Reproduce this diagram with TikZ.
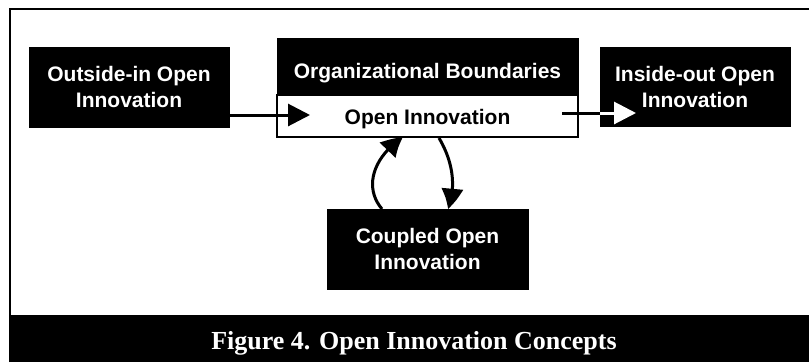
\documentclass[tikz,border=0pt]{standalone}
\usepackage{fontspec}
\setmainfont{Liberation Serif}
\newfontfamily\hv{Liberation Sans}
\usetikzlibrary{arrows.meta,bending}
\tikzset{
  blackbox/.style={draw=black, fill=black, text=white, align=center, inner sep=0pt,
    font=\hv\bfseries\fontsize{21}{26}\selectfont},
  whitebox/.style={draw=black, line width=1.5pt, fill=white, text=black, inner sep=0pt,
    font=\hv\bfseries\fontsize{21}{26}\selectfont},
  arr/.style={line width=3pt, -{Triangle[length=22pt,width=22pt]}},
  curvearr/.style={line width=3pt, -{Triangle[length=21pt,width=21pt,bend]}},
}
\begin{document}
\begin{tikzpicture}[x=1pt,y=-1pt]
\useasboundingbox (0,0) rectangle (809,362);
% frame
\draw[line width=2pt] (10,362) -- (10,9) -- (809,9);
\fill[black] (9,315) rectangle (809,362);
\node[anchor=base, text=white, font=\bfseries\fontsize{26}{30}\selectfont] (cap) at (414,349) {Figure 4. Open Innovation Concepts};
% boxes
\node[blackbox, minimum width=200pt, minimum height=80pt] (outin) at (129,87) {Outside-in Open\\Innovation};
\node[blackbox, minimum width=190pt, minimum height=79pt] (inout) at (695,86.5) {Inside-out Open\\Innovation};
\node[blackbox, minimum width=201pt, minimum height=80pt] (coupled) at (427.5,249) {Coupled Open\\Innovation};
\node[blackbox, minimum width=301pt, minimum height=99pt] (org) at (427.5,87.5) {};
\node[blackbox, anchor=base] (orgtxt) at (427.5,78) {Organizational Boundaries};
\node[whitebox, minimum width=301pt, minimum height=42pt] (oi) at (427.5,116) {};
\node[anchor=base, font=\hv\bfseries\fontsize{21}{26}\selectfont, inner sep=0pt] (oitxt) at (427.5,124) {Open Innovation};
% connectors
\coordinate (a1) at (310,115);
\draw[arr] (outin.east |- a1) -- (a1);
\coordinate (r0) at (562,113);
\coordinate (r1) at (636,113);
\draw[line width=3pt] (r0) -- (inout.west |- r0);
\draw[arr, white] (inout.west |- r0) -- (r1);
\coordinate (u0) at (382,209);
\coordinate (u1) at (403,137);
\draw[curvearr] (u0) .. controls (364,188) and (372,158) .. (u1);
\coordinate (d0) at (439,138);
\coordinate (d1) at (448,209);
\draw[curvearr] (d0) .. controls (452,160) and (457,185) .. (d1);
\end{tikzpicture}
\end{document}
